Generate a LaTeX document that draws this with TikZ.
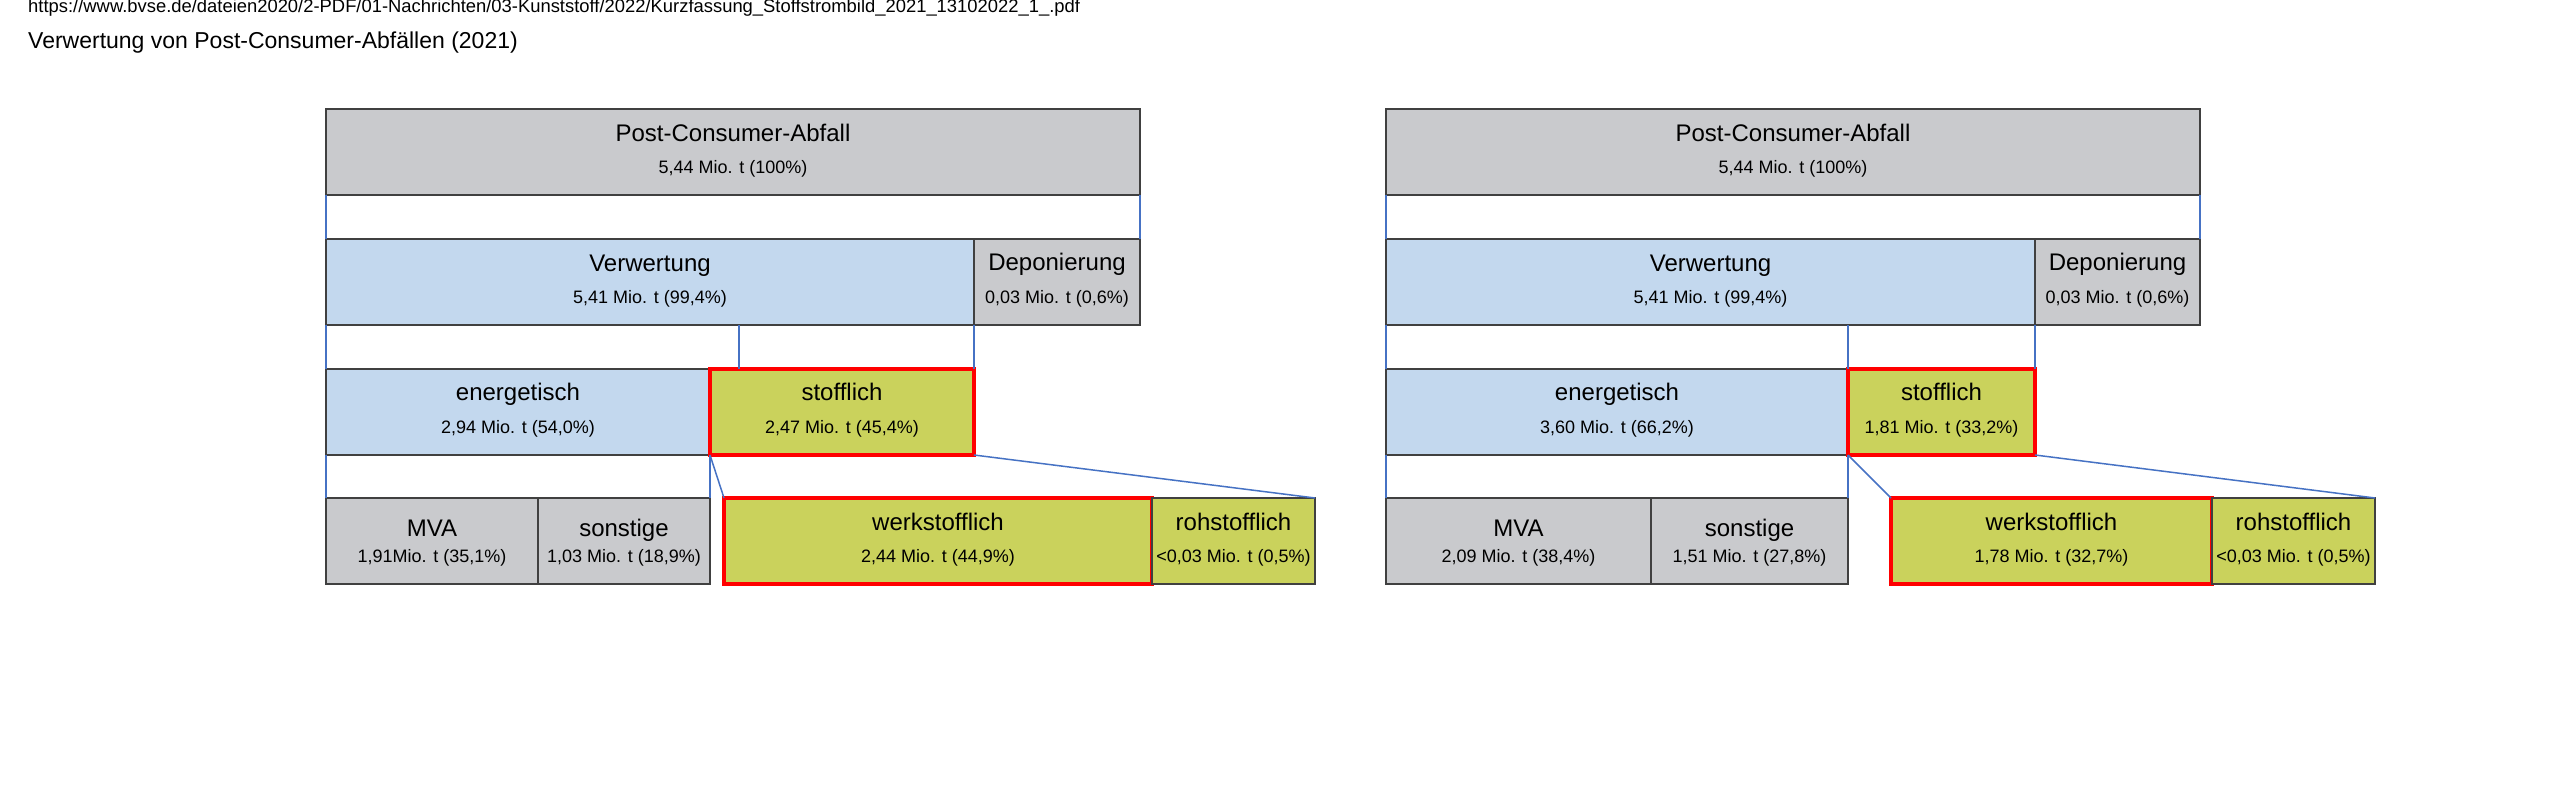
\documentclass[tikz,border=0pt]{standalone}
\usepackage{fontspec}
\setmainfont{Liberation Sans}
\usetikzlibrary{calc}
\definecolor{boxgray}{RGB}{201,202,205}
\definecolor{boxblue}{RGB}{195,216,238}
\definecolor{boxolive}{RGB}{202,210,92}
\definecolor{connblue}{RGB}{70,114,196}
\definecolor{edgedark}{RGB}{64,64,64}
\tikzset{
  cell/.style={rectangle, draw=edgedark, line width=1.5pt, inner sep=0pt, outer sep=0pt},
  graycell/.style={cell, fill=boxgray},
  bluecell/.style={cell, fill=boxblue},
  olivecell/.style={cell, fill=boxolive},
  hotcell/.style={cell, fill=boxolive, draw=red, line width=4pt},
  titletext/.style={inner sep=0pt, font=\fontsize{24}{28}\selectfont},
  numtext/.style={inner sep=0pt, font=\fontsize{18}{21}\selectfont},
  conn/.style={draw=connblue, line width=1.5pt},
  headtext/.style={inner sep=0pt, anchor=base west},
}
% name, style, x1, x2, ytop, title, number, title baseline offset
\newcommand\flowbox[8]{%
  \node[#2, minimum width={#4-(#3)}, minimum height=86pt, anchor=north west] (#1) at (#3,#5) {};
  \node[titletext, anchor=base] (#1-t) at ({(#3+#4)/2},{#5+#8}) {#6};
  \node[numtext, anchor=base] (#1-n) at ({(#3+#4)/2},{#5+64}) {#7};
}
\begin{document}
\begin{tikzpicture}[x=1pt, y=-1pt]
\useasboundingbox[fill=white] (0,0) rectangle (2560,800);
\node[headtext, font=\fontsize{18.4}{21}\selectfont] (url) at (28,13)
  {https://www.bvse.de/dateien2020/2-PDF/01-Nachrichten/03-Kunststoff/2022/Kurzfassung\_Stoffstrombild\_2021\_13102022\_1\_.pdf};
\node[headtext, font=\fontsize{23}{27}\selectfont] (title) at (28,49)
  {Verwertung von Post-Consumer-Abfällen (2021)};

% ---------- left diagram ----------
\flowbox{Ltop}{graycell}{326}{1140}{109}{Post-Consumer-Abfall}{5,44 Mio. t (100\%)}{32}
\flowbox{Lverw}{bluecell}{326}{974}{239}{Verwertung}{5,41 Mio. t (99,4\%)}{32}
\flowbox{Ldep}{graycell}{974}{1140}{239}{Deponierung}{0,03 Mio. t (0,6\%)}{31}
\flowbox{Lener}{bluecell}{326}{710}{369}{energetisch}{2,94 Mio. t (54,0\%)}{31}
\flowbox{Lstoff}{hotcell}{710}{974}{369}{stofflich}{2,47 Mio. t (45,4\%)}{31}
\flowbox{Lmva}{graycell}{326}{538}{498}{MVA}{1,91Mio. t (35,1\%)}{38}
\flowbox{Lsonst}{graycell}{538}{710}{498}{sonstige}{1,03 Mio. t (18,9\%)}{38}
\flowbox{Lwerk}{hotcell}{724}{1152}{498}{werkstofflich}{2,44 Mio. t (44,9\%)}{32}
\flowbox{Lroh}{olivecell}{1152}{1315}{498}{rohstofflich}{<0,03 Mio. t (0,5\%)}{32}

\coordinate (Lmid1) at (739,325);
\coordinate (Lmid2) at (739,369);
\draw[conn] (Ltop.south west) -- (Lverw.north west);
\draw[conn] (Ltop.south east) -- (Ldep.north east);
\draw[conn] (Lverw.south west) -- (Lener.north west);
\draw[conn] (Lmid1) -- (Lmid2);
\draw[conn] (Ldep.south west) -- (Lstoff.north east);
\draw[conn] (Lener.south west) -- (Lmva.north west);
\draw[conn] (Lener.south east) -- (Lsonst.north east);
\draw[conn] (Lstoff.south west) -- (Lwerk.north west);
\draw[conn] (Lstoff.south east) -- (Lroh.north east);

% ---------- right diagram ----------
\flowbox{Rtop}{graycell}{1386}{2200}{109}{Post-Consumer-Abfall}{5,44 Mio. t (100\%)}{32}
\flowbox{Rverw}{bluecell}{1386}{2035}{239}{Verwertung}{5,41 Mio. t (99,4\%)}{32}
\flowbox{Rdep}{graycell}{2035}{2200}{239}{Deponierung}{0,03 Mio. t (0,6\%)}{31}
\flowbox{Rener}{bluecell}{1386}{1848}{369}{energetisch}{3,60 Mio. t (66,2\%)}{31}
\flowbox{Rstoff}{hotcell}{1848}{2035}{369}{stofflich}{1,81 Mio. t (33,2\%)}{31}
\flowbox{Rmva}{graycell}{1386}{1651}{498}{MVA}{2,09 Mio. t (38,4\%)}{38}
\flowbox{Rsonst}{graycell}{1651}{1848}{498}{sonstige}{1,51 Mio. t (27,8\%)}{38}
\flowbox{Rwerk}{hotcell}{1891}{2212}{498}{werkstofflich}{1,78 Mio. t (32,7\%)}{32}
\flowbox{Rroh}{olivecell}{2212}{2375}{498}{rohstofflich}{<0,03 Mio. t (0,5\%)}{32}

\draw[conn] (Rtop.south west) -- (Rverw.north west);
\draw[conn] (Rtop.south east) -- (Rdep.north east);
\draw[conn] (Rverw.south west) -- (Rener.north west);
\draw[conn] (Rstoff.north west |- Rverw.south) -- (Rstoff.north west);
\draw[conn] (Rdep.south west) -- (Rstoff.north east);
\draw[conn] (Rener.south west) -- (Rmva.north west);
\draw[conn] (Rener.south east) -- (Rsonst.north east);
\draw[conn] (Rstoff.south west) -- (Rwerk.north west);
\draw[conn] (Rstoff.south east) -- (Rroh.north east);
\end{tikzpicture}
\end{document}
